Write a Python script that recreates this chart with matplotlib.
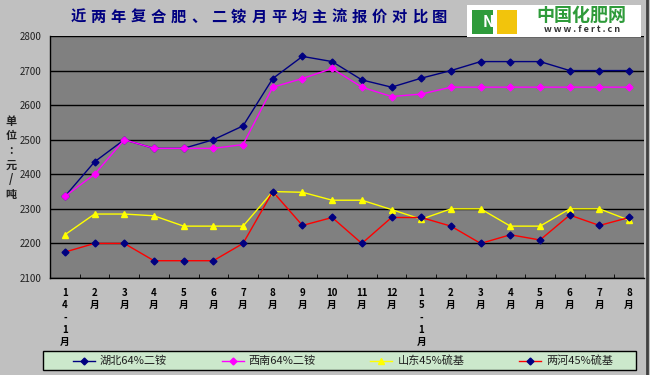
import matplotlib.pyplot as plt
import matplotlib.patches as mpatches
from matplotlib.lines import Line2D

plt.rcParams['font.family'] = ['Noto Sans CJK SC', 'DejaVu Sans']

months = ['1\n4\n-\n1\n月', '2\n月', '3\n月', '4\n月', '5\n月', '6\n月', '7\n月', '8\n月', '9\n月',
          '10\n月', '11\n月', '12\n月', '1\n5\n-\n1\n月', '2\n月', '3\n月', '4\n月', '5\n月', '6\n月',
          '7\n月', '8\n月']

hubei = [2336, 2436, 2500, 2475, 2475, 2500, 2540, 2677, 2741, 2726,
         2673, 2652, 2678, 2700, 2726, 2726, 2726, 2700, 2700, 2700]
xinan = [2336, 2400, 2500, 2475, 2475, 2475, 2486, 2652, 2677, 2706,
         2652, 2625, 2632, 2652, 2652, 2652, 2652, 2652, 2652, 2652]
shandong = [2225, 2285, 2285, 2280, 2250, 2250, 2250, 2350, 2348, 2325,
            2325, 2298, 2270, 2300, 2300, 2250, 2250, 2300, 2300, 2267]
lianghe = [2175, 2200, 2200, 2150, 2150, 2150, 2200, 2350, 2252, 2275,
           2200, 2275, 2275, 2250, 2200, 2225, 2210, 2282, 2252, 2275]

names = ['湖北64%二铵', '西南64%二铵', '山东45%硫基', '两河45%硫基']
title = '近两年复合肥、二铵月平均主流报价对比图'

W, H = 650, 375
fig = plt.figure(figsize=(6.5, 3.75), dpi=100, facecolor='#C0C0C0')
ax = fig.add_axes([50 / W, (H - 278) / H, 594 / W, 242 / H])
ax.set_facecolor('#808080')

styles = [
    dict(color='#000080', lw=1, marker='D', ms=3.5, mfc='#000080', mec='#000080'),
    dict(color='#FF00FF', lw=1, marker='D', ms=3.5, mfc='#FF00FF', mec='#FF00FF'),
    dict(color='#FFFF00', lw=1, marker='^', ms=5, mfc='#FFFF00', mec='#FFFF00'),
    dict(color='#FF0000', lw=1, marker='D', ms=3.5, mfc='#000080', mec='#000080'),
]

x = list(range(len(months)))
for vals, st in zip([hubei, xinan, shandong, lianghe], styles):
    ax.plot(x, vals, **st)

ax.set_xlim(-0.5, len(months) - 0.5)
ax.set_ylim(2100, 2800)
ax.set_yticks(range(2100, 2801, 100))
ax.yaxis.grid(True, color='black', lw=1)
ax.set_axisbelow(True)
ax.tick_params(axis='y', length=0, labelsize=7, pad=6, labelcolor='#202020')

ax.set_xticks([i - 0.5 for i in range(1, len(months))], minor=True)
ax.set_xticks(x)
ax.set_xticklabels(months, fontsize=7, fontweight='bold', linespacing=1.3, va='top')
ax.tick_params(axis='x', which='major', length=0, pad=7)
ax.tick_params(axis='x', which='minor', direction='in', length=3, color='black')
for s in ['top', 'right']:
    ax.spines[s].set_visible(False)
for s in ['left', 'bottom']:
    ax.spines[s].set_color('black')
    ax.spines[s].set_linewidth(1)

# y 轴标题（竖排）
for i, ch in enumerate(['单', '位', ':', '元', '/', '吨']):
    fig.text(11 / W, 1 - (121 + i * 14.7) / H, ch, fontsize=8, fontweight='bold',
             ha='center', va='center', color='#202020')

# 标题（字间距较大，逐字放置）
for i, ch in enumerate(title):
    fig.text((78 + i * 20.1) / W, 1 - 17 / H, ch, fontsize=11, fontweight='bold',
             color='#000080', ha='center', va='center')

# logo
fig.patches.append(mpatches.Rectangle((467 / W, 1 - 37 / H), 174 / W, 32 / H,
                                      transform=fig.transFigure, facecolor='white',
                                      edgecolor='none'))
fig.patches.append(mpatches.Rectangle((472 / W, 1 - 34 / H), 21 / W, 24 / H,
                                      transform=fig.transFigure, facecolor='#2E9B3A',
                                      edgecolor='none'))
fig.patches.append(mpatches.Rectangle((497 / W, 1 - 34 / H), 20 / W, 24 / H,
                                      transform=fig.transFigure, facecolor='#F2C40C',
                                      edgecolor='none'))
fig.text(488 / W, 1 - 22 / H, 'N', fontsize=11, fontweight='bold', color='white',
         ha='center', va='center', style='italic')
fig.text(581 / W, 1 - 15 / H, '中国化肥网', fontsize=13, fontweight='bold', color='#2E9B3A',
         ha='center', va='center')
fig.text(582 / W, 1 - 30 / H, 'w w w . f e r t . c n', fontsize=6.5, fontweight='bold',
         color='#333333', ha='center', va='center')

# 右侧边框
fig.add_artist(Line2D([647 / W, 647 / W], [0, 1], transform=fig.transFigure,
                      color='#404040', lw=2))

# 图例（手动绘制）
fig.patches.append(mpatches.Rectangle((43 / W, 1 - 370 / H), 593 / W, 19 / H,
                                      transform=fig.transFigure, facecolor='#CCE8CC',
                                      edgecolor='black', lw=1))
ly = 1 - 360.5 / H
for i, (name, st) in enumerate(zip(names, styles)):
    x0 = 73 + i * 148.7
    fig.add_artist(Line2D([x0 / W, (x0 + 22) / W], [ly, ly], transform=fig.transFigure,
                          color=st['color'], lw=1))
    fig.add_artist(Line2D([(x0 + 11) / W], [ly], transform=fig.transFigure, lw=0,
                          marker=st['marker'], ms=st['ms'], mfc=st['mfc'], mec=st['mec']))
    fig.text((x0 + 27) / W, ly, name, fontsize=8, style='italic', color='#202020',
             ha='left', va='center')

fig.savefig('out.png', dpi=100, facecolor=fig.get_facecolor())
